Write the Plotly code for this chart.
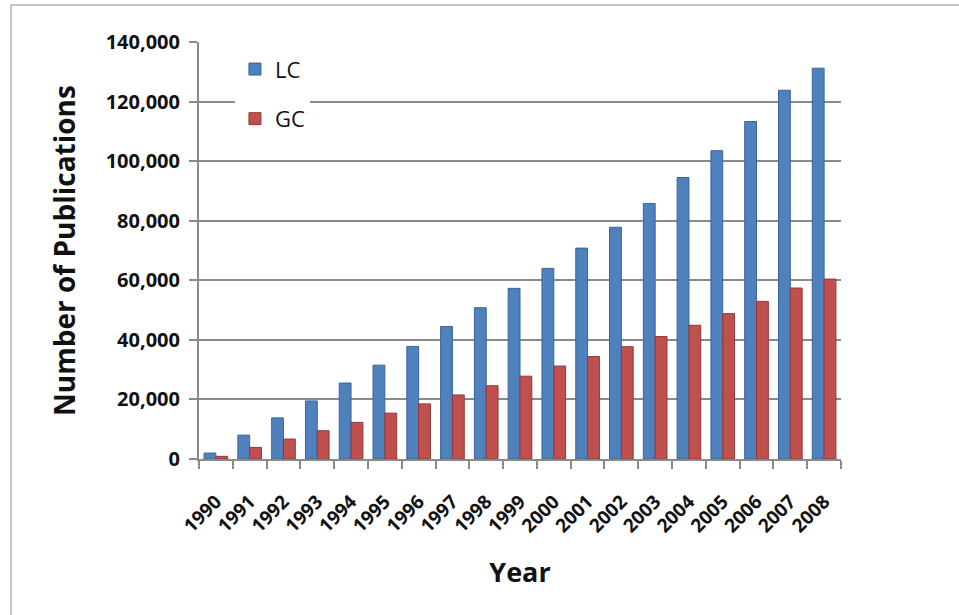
import plotly.graph_objects as go

# Publications per year
years = ["1990", "1991", "1992", "1993", "1994", "1995", "1996", "1997", "1998", "1999",
         "2000", "2001", "2002", "2003", "2004", "2005", "2006", "2007", "2008"]
lc_counts = [2000, 8000, 13800, 19500, 25500, 31500, 37800, 44500, 50800, 57300,
             64000, 70800, 77800, 85800, 94500, 103500, 113300, 123800, 131200]
gc_counts = [900, 3900, 6700, 9500, 12300, 15400, 18500, 21500, 24600, 27800,
             31200, 34400, 37700, 41100, 44900, 48800, 52900, 57400, 60400]
y_ticks = [0, 20000, 40000, 60000, 80000, 100000, 120000, 140000]

FONT = "Open Sans"
GRID = "#8a8a8a"

fig = go.Figure()
fig.add_trace(go.Bar(
    x=years, y=lc_counts, name="LC", legendgroup="lc",
    marker=dict(color="#4F81BD", line=dict(color="#3A6596", width=1)),
))
fig.add_trace(go.Bar(
    x=years, y=gc_counts, name="GC", legendgroup="gc",
    marker=dict(color="#C0504D", line=dict(color="#8E3A38", width=1)),
))

# chart frame
fig.add_shape(type="rect", xref="paper", yref="paper",
              x0=-0.2928, x1=1.25, y0=-0.40, y1=1.0887,
              line=dict(color="#b4b4b4", width=1.5), fillcolor="rgba(0,0,0,0)",
              layer="below")

fig.update_layout(
    width=959, height=615,
    margin=dict(l=199, r=118, t=42, b=156),
    paper_bgcolor="white", plot_bgcolor="white",
    barmode="group", bargap=0.30, bargroupgap=0.0,
    font=dict(family=FONT, color="#1a1a1a"),
    showlegend=True,
    legend=dict(
        x=0.056, y=0.985, xanchor="left", yanchor="top",
        bgcolor="white", borderwidth=0,
        font=dict(family=FONT, size=22, color="#111"),
        tracegroupgap=18, itemwidth=30,
    ),
    xaxis=dict(
        type="category", tickangle=-45,
        tickfont=dict(family=FONT, size=19, color="#111", weight="bold"),
        ticklabelstandoff=22,
        showline=True, linecolor=GRID, linewidth=2,
        ticks="outside", ticklen=8, tickcolor=GRID, tickwidth=1.5,
        tickson="boundaries", showgrid=False,
        title=dict(text="Year", font=dict(family=FONT, size=27, color="#111", weight="bold"),
                   standoff=26),
    ),
    yaxis=dict(
        range=[0, 140000], tickvals=y_ticks,
        ticktext=[f"{v:,}" for v in y_ticks],
        tickfont=dict(family=FONT, size=20, color="#111", weight="bold"),
        ticklabelstandoff=5,
        showline=True, linecolor=GRID, linewidth=2,
        ticks="outside", ticklen=8, tickcolor=GRID, tickwidth=1.5,
        showgrid=True, gridcolor=GRID, gridwidth=2,
        zeroline=False,
        title=dict(text="Number of Publications",
                   font=dict(family=FONT, size=28, color="#111", weight="bold"),
                   standoff=22),
    ),
)

fig.write_html("out.html")
